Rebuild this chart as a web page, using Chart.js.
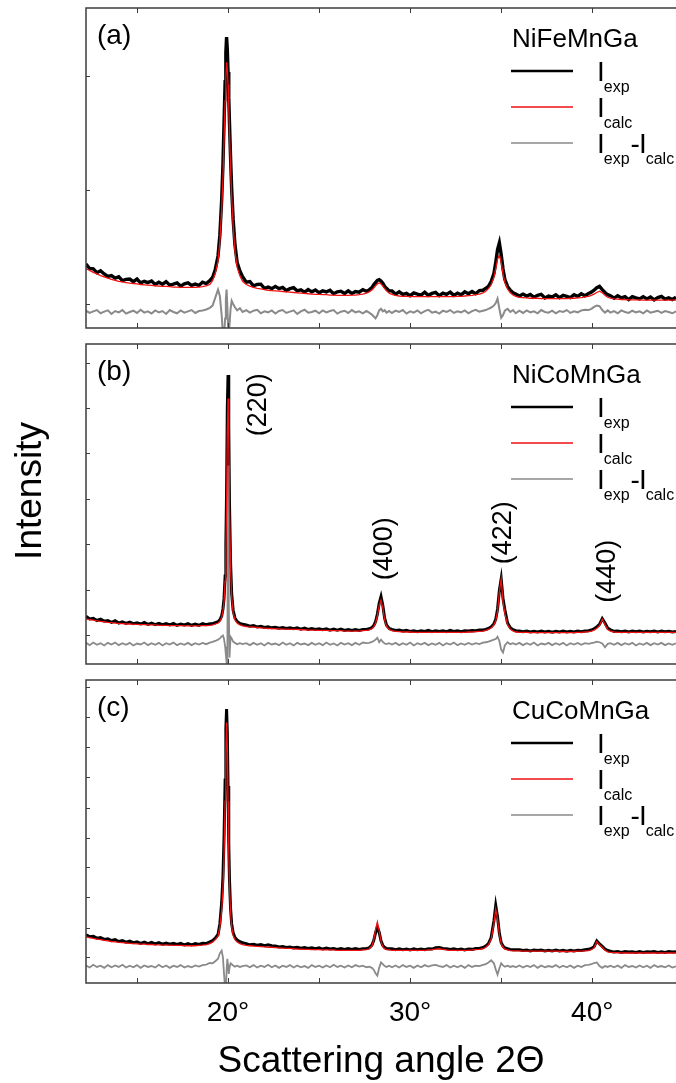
<!DOCTYPE html>
<html>
<head>
<meta charset="utf-8">
<script src="https://cdn.jsdelivr.net/npm/chart.js@4.4.1/dist/chart.umd.min.js"></script>
<style>
  body { margin: 0; background: #fff; }
  #fig { position: relative; width: 676px; height: 1083px; overflow: hidden; }
  #fig canvas { position: absolute; left: 0; }
</style>
</head>
<body>
<div id="fig">
  <canvas id="panelA" width="676" height="340" style="top:0px"></canvas>
  <canvas id="panelB" width="676" height="340" style="top:336px"></canvas>
  <canvas id="panelC" width="676" height="411" style="top:672px"></canvas>
</div>
<script>
// scattering angle 2Θ (deg), shared by the three patterns
const angle = [
  12.2, 12.4, 12.6, 12.8, 13.0, 13.2, 13.4, 13.6, 13.8, 14.0,
  14.2, 14.4, 14.6, 14.8, 15.0, 15.2, 15.4, 15.6, 15.8, 16.0,
  16.2, 16.4, 16.6, 16.8, 17.0, 17.2, 17.4, 17.6, 17.8, 18.0,
  18.2, 18.4, 18.6, 18.8, 19.0,
  19.15, 19.3, 19.45, 19.55, 19.65, 19.72, 19.78, 19.84, 19.88, 19.92, 19.96, 20.0, 20.04, 20.08, 20.14, 20.2, 20.28, 20.38, 20.5, 20.65, 20.8,
  21.0, 21.2, 21.4, 21.6, 21.8, 22.0, 22.2, 22.4, 22.6, 22.8,
  23.0, 23.2, 23.4, 23.6, 23.8, 24.0, 24.2, 24.4, 24.6, 24.8,
  25.0, 25.2, 25.4, 25.6, 25.8, 26.0, 26.2, 26.4, 26.6, 26.8,
  27.0, 27.2, 27.4, 27.6,
  27.75, 27.9, 28.0, 28.1, 28.2, 28.3, 28.4, 28.5, 28.6, 28.7, 28.85,
  29.0, 29.2, 29.4, 29.6, 29.8, 30.0, 30.2, 30.4, 30.6, 30.8,
  31.0, 31.2, 31.4, 31.6, 31.8, 32.0, 32.2, 32.4, 32.6, 32.8,
  33.0, 33.2, 33.4, 33.6, 33.8, 34.0,
  34.15, 34.3, 34.45, 34.6, 34.7, 34.8, 34.9, 35.0, 35.1, 35.2, 35.35, 35.5, 35.65, 35.8,
  36.0, 36.2, 36.4, 36.6, 36.8, 37.0, 37.2, 37.4, 37.6, 37.8,
  38.0, 38.2, 38.4, 38.6, 38.8, 39.0, 39.2, 39.4, 39.6, 39.8,
  39.95, 40.1, 40.25, 40.4, 40.55, 40.7, 40.85,
  41.0, 41.2, 41.4, 41.6, 41.8, 42.0, 42.2, 42.4, 42.6, 42.8,
  43.0, 43.2, 43.4, 43.6, 43.8, 44.0, 44.2, 44.4, 44.6
];

// (a) NiFeMnGa -- intensity as % of panel height
const expA = [
  20.0, 18.6, 18.5, 17.3, 17.9, 16.9, 16.1, 16.4, 15.6, 16.0,
  14.8, 15.2, 15.3, 14.5, 15.3, 14.1, 14.6, 14.2, 14.7, 13.6,
  14.3, 13.7, 14.5, 13.4, 13.7, 14.1, 13.1, 13.8, 14.1, 13.3,
  13.7, 13.3, 14.3, 13.9, 14.8,
  15.8, 18.3, 22.5, 29, 40, 51, 64, 77, 86, 90.9, 87, 80, 72, 64, 53, 43.5, 34, 26, 20.5, 17.8, 16.0,
  14.3, 14.5, 13.2, 13.6, 13.7, 12.4, 12.8, 12.3, 13.0, 12.3,
  12.7, 11.7, 12.3, 12.6, 11.6, 11.9, 11.2, 12.0, 11.3, 11.9,
  11.0, 11.6, 11.3, 11.8, 10.7, 11.3, 11.5, 10.8, 11.6, 10.8,
  11.4, 11.2, 12.0, 11.5,
  11.9, 12.6, 13.5, 14.2, 14.9, 15.1, 14.7, 14.0, 13.0, 12.4, 11.6,
  11.6, 10.6, 11.3, 10.5, 10.8, 10.1, 11.0, 10.6, 10.3, 11.2,
  10.2, 10.8, 11.1, 10.1, 10.9, 10.5, 11.2, 10.2, 10.9, 10.4,
  11.3, 10.7, 11.4, 10.7, 11.7, 11.8,
  12.4, 13.0, 14.5, 17.0, 20.5, 24.5, 26.6, 23.0, 18.5, 15.2, 13.0, 11.8, 11.0, 10.6,
  10.0, 10.6, 10.0, 10.5, 9.6, 10.2, 10.5, 9.4, 10.0, 9.7,
  10.4, 9.5, 10.2, 9.9, 9.5, 10.4, 9.9, 10.7, 10.1, 10.8,
  11.2, 11.8, 12.6, 13.0, 12.0, 11.1, 10.4,
  10.1, 9.3, 10.1, 9.4, 9.8, 8.9, 9.8, 9.4, 9.1, 9.8,
  9.1, 9.7, 8.8, 9.5, 9.9, 9.0, 9.4, 8.9, 9.6
];
const calcA = [
  18.6, 18.0, 17.4, 16.9, 16.4, 16.0, 15.6, 15.2, 14.9, 14.6,
  14.4, 14.2, 14.0, 13.9, 13.8, 13.6, 13.5, 13.4, 13.3, 13.2,
  13.1, 13.0, 13.0, 12.9, 12.8, 12.8, 12.7, 12.7, 12.7, 12.7,
  12.7, 12.8, 12.9, 13.2, 13.6,
  14.8, 17.0, 21, 27, 37, 47, 59, 71, 78, 83, 81, 76, 69, 61, 50, 41, 32, 24, 19, 16.3, 14.6,
  13.6, 13.1, 12.7, 12.4, 12.2, 12.0, 11.8, 11.7, 11.6, 11.5,
  11.4, 11.3, 11.2, 11.1, 11.0, 10.9, 10.8, 10.7, 10.6, 10.5,
  10.5, 10.4, 10.4, 10.3, 10.3, 10.2, 10.2, 10.2, 10.2, 10.3,
  10.3, 10.4, 10.6, 10.9,
  11.3, 11.9, 12.5, 13.2, 13.8, 14.1, 13.8, 13.1, 12.3, 11.6, 10.9,
  10.5, 10.2, 10.0, 9.9, 9.9, 9.8, 9.8, 9.8, 9.8, 9.8,
  9.8, 9.8, 9.8, 9.8, 9.8, 9.8, 9.8, 9.8, 9.9, 9.9,
  10.0, 10.1, 10.2, 10.4, 10.6, 11.0,
  11.5, 12.3, 13.5, 15.8, 18.5, 21.5, 22.8, 20.5, 17.0, 14.3, 12.2, 11.0, 10.3, 9.9,
  9.6, 9.5, 9.4, 9.3, 9.3, 9.3, 9.2, 9.2, 9.2, 9.2,
  9.2, 9.2, 9.2, 9.2, 9.3, 9.3, 9.4, 9.5, 9.7, 9.9,
  10.2, 10.6, 11.1, 11.5, 11.0, 10.2, 9.6,
  9.3, 9.1, 9.0, 8.9, 8.9, 8.8, 8.8, 8.8, 8.8, 8.7,
  8.7, 8.7, 8.7, 8.7, 8.7, 8.7, 8.7, 8.7, 8.7
];
const diffA = [
  5.4, 4.7, 5.2, 5.6, 4.6, 5.1, 5.5, 4.4, 5.3, 4.9,
  5.6, 4.5, 5.0, 5.4, 4.7, 5.7, 4.8, 5.2, 4.5, 5.5,
  4.9, 5.3, 4.4, 5.6, 5.0, 4.6, 5.5, 4.8, 5.2, 5.6,
  4.7, 5.3, 5.5, 5.8, 6.3,
  7.0, 9.5, 12, 10, 4, -2, -3, 3, 9, 12, 7, 1, -2, 1, 6, 8.5, 7.5, 6.5, 5.5, 6.2, 5.0,
  5.6, 4.8, 5.4, 5.7, 4.6, 5.2, 4.9, 5.5, 4.5, 5.3,
  5.6, 4.7, 5.1, 5.5, 4.4, 5.2, 5.7, 4.8, 5.0, 5.4,
  4.6, 5.5, 4.9, 5.3, 5.6, 4.5, 5.1, 5.4, 4.7, 5.6,
  4.9, 5.2, 4.6, 5.3,
  4.8, 4.2, 3.6, 3.0, 4.0, 5.5, 6.0, 5.2, 5.6, 4.8, 5.3,
  4.7, 5.4, 5.0, 5.6, 4.5, 5.2, 4.8, 5.5, 4.6, 5.3,
  5.7, 4.8, 5.1, 4.5, 5.4, 5.0, 5.6, 4.7, 5.2, 4.9,
  5.5, 4.6, 5.3, 5.7, 5.1, 5.4,
  5.6, 6.0, 6.4, 7.0, 7.8, 9.2, 6.0, 3.2, 4.0, 5.4, 6.0, 5.0, 5.6, 4.6,
  5.4, 4.7, 5.5, 4.9, 5.2, 4.6, 5.6, 5.0, 4.8, 5.4,
  4.6, 5.3, 5.0, 5.6, 4.7, 5.2, 4.9, 5.5, 5.7, 5.6,
  6.0, 6.6, 7.0, 6.8, 5.6, 4.8, 5.5,
  4.8, 5.3, 4.6, 5.5, 5.0, 4.7, 5.4, 4.9, 5.2, 4.6,
  5.5, 4.8, 5.1, 5.4, 4.7, 5.3, 5.0, 4.6, 5.2
];

// (b) NiCoMnGa
const expB = [
  14.9, 14.1, 14.3, 13.6, 14.0, 13.4, 13.6, 13.0, 13.5, 12.8,
  13.2, 12.7, 13.1, 12.6, 12.9, 12.5, 13.0, 12.4, 12.8, 12.3,
  12.7, 12.3, 12.6, 12.2, 12.7, 12.1, 12.5, 12.2, 12.6, 12.1,
  12.5, 12.1, 12.6, 12.3, 12.6,
  12.6, 12.9, 13.2, 13.8, 15.0, 17.2, 20.5, 27.5, 37, 54, 80, 90.3, 74, 50, 31.5, 22, 16.8, 14.4, 13.3, 12.7, 12.4,
  12.2, 11.8, 12.0, 11.6, 11.8, 11.4, 11.6, 11.3, 11.5, 11.2,
  11.4, 11.1, 11.3, 11.0, 11.3, 10.9, 11.2, 10.8, 11.1, 10.8,
  11.0, 10.7, 11.0, 10.6, 10.9, 10.6, 10.9, 10.5, 10.8, 10.5,
  10.8, 10.5, 10.8, 10.8,
  11.0, 11.4, 12.0, 13.2, 15.6, 19.0, 21.1, 18.3, 14.3, 12.2, 11.1,
  10.8, 10.5, 10.6, 10.3, 10.5, 10.2, 10.4, 10.1, 10.4, 10.2,
  10.5, 10.1, 10.4, 10.2, 10.4, 10.1, 10.5, 10.2, 10.4, 10.1,
  10.4, 10.3, 10.5, 10.4, 10.6, 10.6,
  10.8, 11.1, 11.6, 12.6, 14.0, 17.2, 23.0, 26.6, 20.5, 17.0, 12.8, 11.3, 10.7, 10.4,
  10.3, 10.1, 10.3, 10.0, 10.2, 10.0, 10.3, 10.0, 10.2, 9.9,
  10.2, 10.0, 10.3, 10.0, 10.2, 10.0, 10.3, 10.1, 10.3, 10.4,
  10.6, 11.0, 11.6, 12.4, 14.2, 12.8, 11.2,
  10.7, 10.2, 10.3, 10.1, 10.3, 10.0, 10.3, 10.1, 10.3, 10.0,
  10.2, 10.1, 10.3, 10.0, 10.3, 10.1, 10.2, 10.0, 10.2
];
const calcB = [
  14.1, 13.9, 13.7, 13.5, 13.3, 13.2, 13.0, 12.9, 12.8, 12.7,
  12.6, 12.5, 12.5, 12.4, 12.4, 12.3, 12.3, 12.2, 12.2, 12.2,
  12.1, 12.1, 12.1, 12.0, 12.0, 12.0, 12.0, 11.9, 11.9, 11.9,
  11.9, 11.9, 12.0, 12.0, 12.1,
  12.2, 12.5, 12.8, 13.3, 14.5, 16.5, 19.5, 26, 35, 50, 72, 83, 70, 48, 30, 21, 16, 13.8, 12.8, 12.2, 11.9,
  11.7, 11.6, 11.5, 11.4, 11.3, 11.2, 11.1, 11.1, 11.0, 11.0,
  10.9, 10.9, 10.8, 10.8, 10.8, 10.7, 10.7, 10.6, 10.6, 10.6,
  10.5, 10.5, 10.5, 10.4, 10.4, 10.4, 10.4, 10.3, 10.3, 10.3,
  10.3, 10.3, 10.4, 10.5,
  10.7, 11.0, 11.6, 12.8, 15.0, 18.2, 20.0, 17.5, 13.8, 11.8, 10.8,
  10.4, 10.2, 10.1, 10.0, 10.0, 10.0, 9.9, 9.9, 9.9, 9.9,
  9.9, 9.9, 9.9, 9.9, 9.9, 9.9, 9.9, 9.9, 9.9, 9.9,
  9.9, 10.0, 10.0, 10.1, 10.2, 10.3,
  10.5, 10.8, 11.3, 12.2, 13.5, 16.5, 22.5, 26.6, 19.5, 15.8, 12.3, 10.9, 10.3, 10.0,
  9.9, 9.9, 9.9, 9.8, 9.8, 9.8, 9.8, 9.8, 9.8, 9.8,
  9.8, 9.8, 9.8, 9.8, 9.8, 9.8, 9.9, 9.9, 10.0, 10.1,
  10.3, 10.6, 11.2, 12.0, 14.0, 12.3, 10.8,
  10.3, 10.0, 9.9, 9.9, 9.9, 9.9, 9.9, 9.9, 9.9, 9.9,
  9.9, 9.9, 9.9, 9.9, 9.9, 9.9, 9.9, 9.9, 9.9
];
const diffB = [
  6.6, 5.9, 6.7, 6.0, 6.5, 5.8, 6.6, 6.1, 6.7, 5.9,
  6.5, 6.0, 6.6, 5.8, 6.4, 6.1, 6.7, 5.9, 6.5, 6.0,
  6.6, 5.8, 6.5, 6.1, 6.7, 5.9, 6.4, 6.0, 6.6, 5.9,
  6.5, 6.1, 6.6, 6.2, 6.7,
  6.9, 7.2, 7.6, 8.0, 8.6, 8.9, 7.8, 5.5, 3.0, 0.5, -3, 62, 20, 2, 8.5, 8.0, 7.0, 6.6, 6.2, 6.5, 6.2,
  6.5, 5.9, 6.6, 6.0, 6.5, 5.8, 6.6, 6.1, 6.4, 5.9,
  6.7, 6.0, 6.5, 5.8, 6.6, 6.1, 6.4, 5.9, 6.6, 6.0,
  6.5, 5.9, 6.7, 6.0, 6.4, 5.8, 6.6, 6.1, 6.5, 5.9,
  6.6, 6.0, 6.7, 6.5,
  6.6, 6.9, 7.2, 7.6, 8.2, 6.8, 7.6, 6.9, 6.4, 6.2, 6.5,
  6.1, 6.6, 5.9, 6.5, 6.0, 6.7, 5.8, 6.5, 6.1, 6.6,
  5.9, 6.4, 6.0, 6.6, 5.8, 6.5, 6.1, 6.7, 5.9, 6.4,
  6.0, 6.6, 6.1, 6.5, 6.2, 6.7,
  6.8, 7.0, 7.3, 7.6, 7.8, 8.5, 7.2, 4.5, 3.6, 5.8, 6.8, 6.2, 6.5, 6.1,
  6.6, 5.9, 6.5, 6.0, 6.7, 5.8, 6.4, 6.1, 6.6, 5.9,
  6.5, 6.0, 6.6, 5.8, 6.5, 6.1, 6.6, 6.0, 6.5, 6.3,
  6.5, 6.7, 7.0, 6.8, 6.4, 5.2, 6.3,
  6.5, 6.0, 6.6, 5.9, 6.5, 6.1, 6.6, 5.8, 6.4, 6.0,
  6.6, 5.9, 6.5, 6.1, 6.6, 5.9, 6.4, 6.0, 6.5
];

// (c) CuCoMnGa
const expC = [
  15.9, 15.3, 15.4, 14.8, 15.0, 14.4, 14.6, 14.0, 14.3, 13.7,
  14.0, 13.5, 13.8, 13.3, 13.6, 13.1, 13.5, 13.0, 13.4, 12.9,
  13.3, 12.8, 13.2, 12.8, 13.1, 12.7, 13.1, 12.6, 13.0, 12.6,
  13.0, 12.7, 13.1, 13.0, 13.6,
  14.0, 14.8, 16.0, 19.5, 26.5, 35, 48, 67, 84, 90.4, 83, 65, 46, 34, 24.5, 19.5, 16.6, 15.0, 14.2, 13.6, 13.3,
  13.0, 12.6, 12.8, 12.5, 12.7, 12.3, 12.6, 12.3, 12.2, 11.9,
  12.0, 11.7, 11.9, 11.6, 11.8, 11.5, 11.7, 11.4, 11.6, 11.3,
  11.6, 11.2, 11.5, 11.2, 11.4, 11.1, 11.4, 11.1, 11.4, 11.1,
  11.4, 11.1, 11.3, 11.4,
  11.6, 12.5, 14.0, 16.5, 18.5, 16.8, 13.9, 12.4, 11.7, 11.4, 11.3,
  11.3, 11.0, 11.3, 11.0, 11.2, 10.9, 11.3, 11.0, 11.2, 11.0,
  11.3, 11.2, 11.6, 11.7, 11.4, 11.3, 11.1, 11.3, 11.0, 11.2,
  10.9, 11.2, 11.1, 11.4, 11.4, 11.7,
  12.2, 13.0, 15.0, 20.5, 25.6, 21.8, 16.4, 13.3, 12.2, 11.6, 11.3, 11.1, 11.0, 11.0,
  11.0, 10.7, 10.9, 10.6, 10.9, 10.7, 10.9, 10.6, 10.8, 10.6,
  10.9, 10.6, 10.8, 10.5, 10.8, 10.6, 10.8, 10.7, 11.0, 11.1,
  11.4, 12.0, 13.9, 12.9, 12.1, 11.2, 10.7,
  10.5, 10.2, 10.4, 10.1, 10.4, 10.2, 10.3, 10.1, 10.4, 10.1,
  10.3, 10.2, 10.4, 10.1, 10.3, 10.1, 10.4, 10.2, 10.3
];
const calcC = [
  15.2, 15.0, 14.7, 14.5, 14.3, 14.1, 13.9, 13.7, 13.6, 13.4,
  13.3, 13.2, 13.1, 13.0, 12.9, 12.8, 12.8, 12.7, 12.7, 12.6,
  12.6, 12.5, 12.5, 12.5, 12.4, 12.4, 12.4, 12.3, 12.3, 12.3,
  12.3, 12.4, 12.5, 12.7, 13.0,
  13.5, 14.3, 15.5, 18.5, 24, 31, 42, 60, 76, 86, 78, 60, 43, 32, 23, 18.5, 15.8, 14.3, 13.5, 13.0, 12.7,
  12.4, 12.3, 12.2, 12.1, 12.0, 11.9, 11.8, 11.8, 11.7, 11.6,
  11.5, 11.4, 11.4, 11.3, 11.2, 11.2, 11.1, 11.1, 11.0, 11.0,
  11.0, 10.9, 10.9, 10.9, 10.9, 10.8, 10.8, 10.8, 10.8, 10.8,
  10.8, 10.8, 10.9, 11.0,
  11.3, 12.2, 14.2, 17.5, 20.1, 17.2, 13.8, 12.0, 11.3, 11.0, 10.9,
  10.8, 10.8, 10.8, 10.8, 10.8, 10.8, 10.8, 10.8, 10.8, 10.8,
  10.9, 11.0, 11.2, 11.3, 11.1, 10.9, 10.8, 10.8, 10.8, 10.8,
  10.8, 10.8, 10.9, 11.0, 11.1, 11.3,
  11.8, 12.6, 14.5, 19.5, 24.3, 21.0, 16.0, 13.0, 11.8, 11.2, 10.9, 10.7, 10.6, 10.6,
  10.6, 10.5, 10.5, 10.5, 10.5, 10.5, 10.5, 10.5, 10.5, 10.5,
  10.5, 10.4, 10.4, 10.4, 10.4, 10.4, 10.5, 10.5, 10.6, 10.7,
  11.0, 11.6, 13.6, 12.6, 11.8, 10.8, 10.3,
  10.1, 10.0, 10.0, 9.9, 9.9, 9.9, 9.9, 9.9, 9.9, 9.9,
  9.9, 9.9, 9.9, 9.9, 9.9, 9.9, 9.9, 9.9, 9.9
];
const diffC = [
  5.8, 5.1, 6.0, 5.3, 5.7, 5.0, 5.9, 5.2, 5.8, 5.3,
  6.0, 5.1, 5.7, 5.2, 5.9, 5.0, 5.8, 5.3, 5.6, 5.1,
  6.0, 5.2, 5.8, 5.0, 5.7, 5.3, 5.9, 5.1, 5.6, 5.2,
  5.8, 5.4, 5.9, 6.1, 6.6,
  6.5, 7.2, 8.0, 9.8, 10.7, 8.5, 3.0, -2.0, -3.0, 4.0, 8.0, 6.0, 3.0, 5.0, 6.5, 6.2, 5.8, 5.4, 5.7, 5.3, 5.6,
  5.8, 5.2, 5.9, 5.1, 5.7, 5.3, 6.0, 5.2, 5.8, 5.0,
  5.7, 5.3, 5.9, 5.1, 5.8, 5.2, 5.6, 5.0, 5.9, 5.3,
  5.7, 5.1, 5.8, 5.2, 6.0, 5.3, 5.7, 5.1, 5.8, 5.2,
  5.9, 5.4, 5.7, 5.2,
  5.4, 5.0, 4.4, 3.2, 2.4, 5.0, 6.8, 6.2, 5.6, 5.3, 5.7,
  5.2, 5.8, 5.1, 5.9, 5.3, 5.7, 5.0, 5.8, 5.2, 5.9,
  5.4, 5.8, 6.0, 5.6, 5.3, 5.9, 5.1, 5.7, 5.2, 5.8,
  5.0, 5.9, 5.3, 5.7, 5.6, 6.0,
  6.2, 6.8, 7.5, 6.5, 4.5, 2.8, 4.8, 6.5, 5.8, 5.4, 5.7, 5.3, 5.6, 5.2,
  5.8, 5.1, 5.7, 5.3, 5.9, 5.0, 5.8, 5.2, 5.6, 5.3,
  5.9, 5.1, 5.7, 5.2, 5.8, 5.0, 5.7, 5.3, 5.9, 6.0,
  6.2, 6.6, 6.8, 5.6, 5.0, 5.6, 5.3,
  5.7, 5.2, 5.8, 5.0, 5.9, 5.3, 5.6, 5.1, 5.8, 5.2,
  5.7, 5.0, 5.9, 5.3, 5.6, 5.2, 5.8, 5.1, 5.5
];

const angleTicks = [20, 30, 40];
const frameTicks = [15, 20, 25, 30, 35, 40];
const yTicksA = [7.4, 43.1, 78.8];
const yTicksB = [9.1, 23.2, 37.6, 51.7, 66.0, 80.1, 94.2];
const yTicksC = [8.6, 18.3, 28.4, 38.3, 48.0, 57.9, 68.0, 77.9, 87.8, 97.7];

const samples = ['NiFeMnGa', 'NiCoMnGa', 'CuCoMnGa'];
const panelTags = ['(a)', '(b)', '(c)'];
const reflections = ['(220)', '(400)', '(422)', '(440)'];
const reflectionAngle = [21.7, 28.6, 35.15, 40.85];
const reflectionHeight = [81, 36, 41, 29];

const FONT = '"Liberation Sans", Arial, Helvetica, sans-serif';
const X_MIN = 12.2, X_MAX = 44.6;

const pts = ys => angle.map((x, i) => ({ x: x, y: ys[i] }));

// legend text pieces: [text, subscript?]
const legendText = [
  [['I', false], ['exp', true]],
  [['I', false], ['calc', true]],
  [['I', false], ['exp', true], ['-', false], ['I', false], ['calc', true]]
];

const framePlugin = {
  id: 'frame',
  afterDatasetsDraw(chart, args, o) {
    const { ctx, chartArea: a, scales: { x, y } } = chart;
    ctx.save();
    // frame (no right side, it is cut off)
    ctx.strokeStyle = '#3c3c3c';
    ctx.lineWidth = 1.5;
    ctx.beginPath();
    ctx.moveTo(a.right + 4, a.top);
    ctx.lineTo(a.left, a.top);
    ctx.lineTo(a.left, a.bottom);
    ctx.lineTo(a.right + 4, a.bottom);
    ctx.stroke();
    // inward ticks
    ctx.lineWidth = 1;
    ctx.beginPath();
    frameTicks.forEach(v => {
      const px = Math.round(x.getPixelForValue(v)) + 0.5;
      ctx.moveTo(px, a.top); ctx.lineTo(px, a.top + 5);
      ctx.moveTo(px, a.bottom); ctx.lineTo(px, a.bottom - 5);
    });
    o.yTicks.forEach(v => {
      const py = Math.round(y.getPixelForValue(v)) + 0.5;
      ctx.moveTo(a.left, py); ctx.lineTo(a.left + 4, py);
    });
    ctx.stroke();

    // panel tag
    ctx.fillStyle = '#000';
    ctx.textBaseline = 'alphabetic';
    ctx.textAlign = 'left';
    ctx.font = '28px ' + FONT;
    ctx.fillText(o.tag, a.left + 11, a.top + 36);

    // legend block
    const lx = 511, ly = a.top;
    ctx.font = '26px ' + FONT;
    ctx.fillText(o.sample, lx + 1, ly + 39);
    chart.data.datasets.forEach((ds, row) => {
      const yy = ly + 63 + row * 36;
      ctx.strokeStyle = ds.borderColor;
      ctx.lineWidth = row === 0 ? 2.6 : 1.3;
      ctx.beginPath();
      ctx.moveTo(lx, yy); ctx.lineTo(lx + 62, yy);
      ctx.stroke();
      let tx = lx + 86;
      legendText[row].forEach(([t, sub]) => {
        ctx.font = (sub ? '16px ' : '28px ') + FONT;
        ctx.fillText(t, tx, sub ? yy + 21 : yy + 10);
        tx += ctx.measureText(t).width + (sub ? 1 : -1);
      });
    });

    // reflection labels
    if (o.peaks) {
      ctx.font = '27px ' + FONT;
      ctx.textAlign = 'center';
      ctx.textBaseline = 'middle';
      reflections.forEach((t, i) => {
        ctx.save();
        ctx.translate(x.getPixelForValue(reflectionAngle[i]), y.getPixelForValue(reflectionHeight[i]));
        ctx.rotate(-Math.PI / 2);
        ctx.fillText(t, 0, 0);
        ctx.restore();
      });
    }
    // shared y title of the figure
    if (o.yTitle) {
      ctx.save();
      ctx.font = '37px ' + FONT;
      ctx.textAlign = 'center';
      ctx.textBaseline = 'middle';
      ctx.translate(31, 491 - 336);
      ctx.rotate(-Math.PI / 2);
      ctx.fillText(o.yTitle, 0, 0);
      ctx.restore();
    }
    ctx.restore();
  }
};

function makePanel(id, exp, calc, diff, i, extra) {
  const showX = !!extra.showX;
  return new Chart(document.getElementById(id), {
    type: 'line',
    data: {
      datasets: [
        { label: 'exp', data: pts(exp), borderColor: '#000000', borderWidth: extra.expWidth, order: 2 },
        { label: 'calc', data: pts(calc), borderColor: '#f01010', borderWidth: 1.3, order: 0 },
        { label: 'diff', data: pts(diff), borderColor: '#8a8a8a', borderWidth: extra.diffWidth, order: 1 }
      ]
    },
    options: {
      responsive: false,
      animation: false,
      events: [],
      elements: { point: { radius: 0 }, line: { tension: 0 } },
      datasets: { line: { clip: 0 } },
      layout: { autoPadding: false, padding: { left: 86, right: 0, top: 8, bottom: showX ? 0 : 12 } },
      scales: {
        x: {
          type: 'linear', min: X_MIN, max: X_MAX,
          display: showX,
          grid: { display: false },
          border: { display: false },
          afterBuildTicks: s => { s.ticks = angleTicks.map(v => ({ value: v })); },
          ticks: { color: '#000', padding: 8, font: { family: FONT, size: 28, lineHeight: 1 }, callback: v => v + '°' },
          title: { display: showX, text: 'Scattering angle 2Θ', color: '#000', padding: { top: 8, bottom: 3 }, font: { family: FONT, size: 37, lineHeight: 1 } }
        },
        y: { min: 0, max: 100, display: false }
      },
      plugins: {
        legend: { display: false },
        tooltip: { enabled: false },
        frame: { tag: panelTags[i], sample: samples[i], yTicks: extra.yTicks, peaks: extra.peaks, yTitle: extra.yTitle }
      }
    },
    plugins: [framePlugin]
  });
}

makePanel('panelA', expA, calcA, diffA, 0, { yTicks: yTicksA, expWidth: 3.4, diffWidth: 2 });
makePanel('panelB', expB, calcB, diffB, 1, { yTicks: yTicksB, peaks: true, yTitle: 'Intensity', expWidth: 3, diffWidth: 1.8 });
makePanel('panelC', expC, calcC, diffC, 2, { yTicks: yTicksC, showX: true, expWidth: 3, diffWidth: 1.8 });
</script>
</body>
</html>
